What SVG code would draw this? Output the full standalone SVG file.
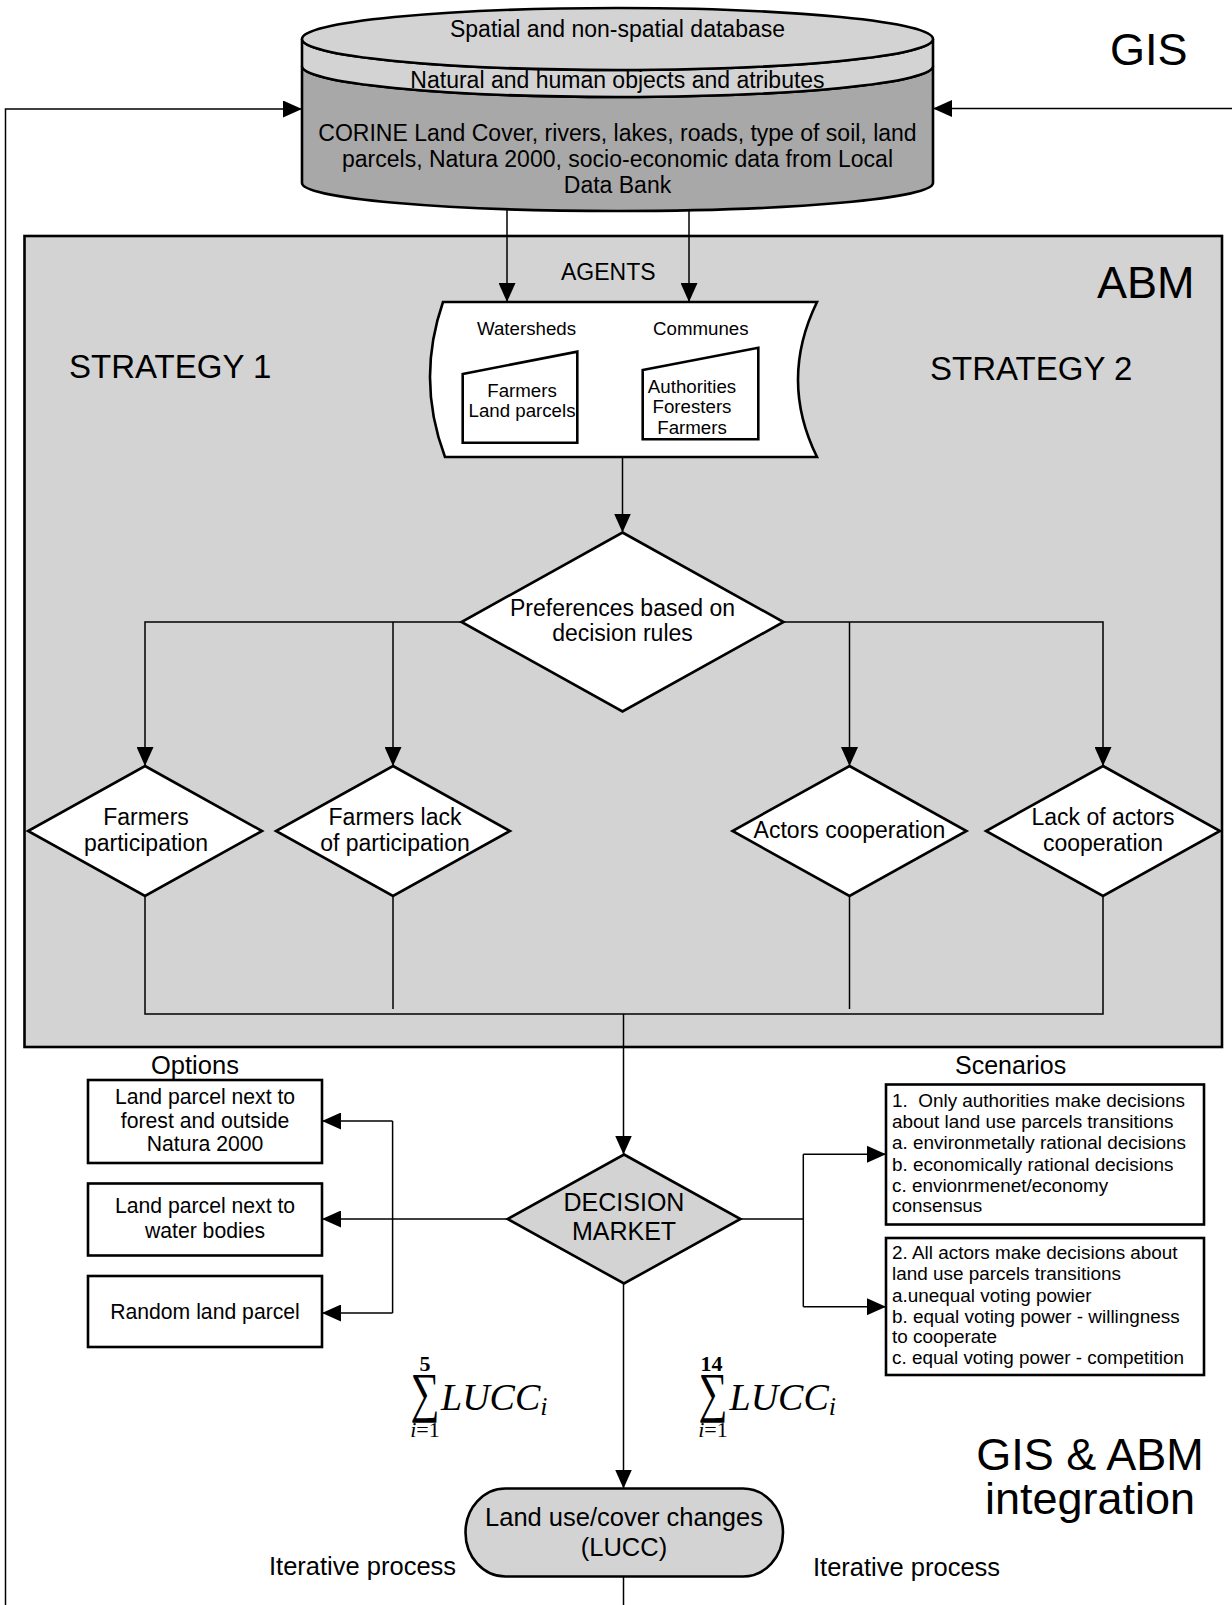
<svg xmlns="http://www.w3.org/2000/svg" width="1232" height="1605" viewBox="0 0 1232 1605">
<style>
text{font-family:"Liberation Sans",Arial,sans-serif;fill:#000}
.t23{font-size:23px}
.t18{font-size:18.7px}
.t19{font-size:18.9px}
.t21{font-size:21.2px}
.t25{font-size:25.5px}
.big{font-size:45px}
.strat{font-size:33px}
.mid{text-anchor:middle}
.serif{font-family:"Liberation Serif","Times New Roman",serif}
.shape{stroke:#000;stroke-width:2.6;stroke-linejoin:miter}
.white{fill:#fff}
.light{fill:#d3d3d3}
.dark{fill:#a8a8a8}
.conn{fill:none;stroke:#000;stroke-width:1.5}
.arr{marker-end:url(#ah)}
</style>
<defs>
<marker id="ah" markerUnits="userSpaceOnUse" markerWidth="19" markerHeight="17" refX="19" refY="8.5" orient="auto">
<path d="M0,0 L19,8.5 L0,17 Z" fill="#000"/>
</marker>
</defs>
<rect width="1232" height="1605" fill="#fff"/>

<g id="abm-frame">
<rect class="shape light" x="24.5" y="236" width="1197.5" height="811" stroke-width="3"/>
<text class="big" x="1097" y="298" font-size="44">ABM</text>
<text class="strat" x="69" y="378">STRATEGY 1</text>
<text class="strat" x="930" y="380">STRATEGY 2</text>
</g>

<g id="gis-label"><text class="big" x="1110" y="65">GIS</text></g>

<g id="database">
<path class="shape dark" d="M302,66 L302,183 A315.5,28 0 0 0 933,183 L933,66 A315.5,31 0 0 1 302,66 Z"/>
<path class="shape light" d="M302,39 L302,66 A315.5,31 0 0 0 933,66 L933,39 A315.5,31 0 0 1 302,39 Z"/>
<ellipse class="shape light" cx="617.5" cy="39" rx="315.5" ry="31"/>
<text class="t23 mid" x="617.5" y="37">Spatial and non-spatial database</text>
<text class="t23 mid" x="617.5" y="88">Natural and human objects and atributes</text>
<text class="t23 mid" x="617.5" y="141">CORINE Land Cover, rivers, lakes, roads, type of soil, land</text>
<text class="t23 mid" x="617.5" y="167">parcels, Natura 2000, socio-economic data from Local</text>
<text class="t23 mid" x="617.5" y="193">Data Bank</text>
</g>

<g id="agents">
<text class="t23" x="561" y="280">AGENTS</text>
<path class="shape white" d="M443,302 L817,302 Q779,380 817,457 L445,457 Q416,380 443,302 Z"/>
<text class="t18" x="477" y="334.5">Watersheds</text>
<text class="t18" x="653" y="335">Communes</text>
</g>

<g id="watersheds-box">
<path class="shape white" d="M462.7,374 L577.3,351.7 L577.3,442.7 L462.7,442.7 Z"/>
<text class="t18 mid" x="522" y="396.5">Farmers</text>
<text class="t18 mid" x="522" y="417">Land parcels</text>
</g>

<g id="communes-box">
<path class="shape white" d="M642.7,370 L758.3,347.7 L758.3,439.3 L642.7,439.3 Z"/>
<text class="t18 mid" x="692" y="392.5">Authorities</text>
<text class="t18 mid" x="692" y="413">Foresters</text>
<text class="t18 mid" x="692" y="433.5">Farmers</text>
</g>

<g id="preferences">
<path class="shape white" d="M622.5,532.5 L783.5,622 L622.5,711.5 L461.5,622 Z"/>
<text class="t23 mid" x="622.5" y="616">Preferences based on</text>
<text class="t23 mid" x="622.5" y="641">decision rules</text>
</g>

<g id="farmers-participation">
<path class="shape white" d="M145,766 L262,831 L145,896 L28,831 Z"/>
<text class="t23 mid" x="146" y="825">Farmers</text>
<text class="t23 mid" x="146" y="851">participation</text>
</g>

<g id="farmers-lack">
<path class="shape white" d="M393,766 L510,831 L393,896 L276,831 Z"/>
<text class="t23 mid" x="395" y="825">Farmers lack</text>
<text class="t23 mid" x="395" y="851">of participation</text>
</g>

<g id="actors-cooperation">
<path class="shape white" d="M849.5,766 L966.5,831 L849.5,896 L732.5,831 Z"/>
<text class="t23 mid" x="849.5" y="838">Actors cooperation</text>
</g>

<g id="lack-cooperation">
<path class="shape white" d="M1103,766 L1220,831 L1103,896 L986,831 Z"/>
<text class="t23 mid" x="1103" y="825">Lack of actors</text>
<text class="t23 mid" x="1103" y="851">cooperation</text>
</g>

<g id="options">
<text class="t25" x="151" y="1074" font-size="25">Options</text>
<rect class="shape white" x="88" y="1080" width="234" height="83" stroke-width="3"/>
<text class="t21 mid" x="205" y="1104">Land parcel next to</text>
<text class="t21 mid" x="205" y="1127.5">forest and outside</text>
<text class="t21 mid" x="205" y="1151">Natura 2000</text>
</g>
<g id="option-water">
<rect class="shape white" x="88" y="1183.5" width="234" height="72" stroke-width="3"/>
<text class="t21 mid" x="205" y="1213">Land parcel next to</text>
<text class="t21 mid" x="205" y="1237.5">water bodies</text>
</g>
<g id="option-random">
<rect class="shape white" x="88" y="1276" width="234" height="71" stroke-width="3"/>
<text class="t21 mid" x="205" y="1319">Random land parcel</text>
</g>

<g id="decision-market">
<path class="shape light" d="M624,1154.5 L740.5,1219 L624,1283.5 L507.5,1219 Z"/>
<text class="mid" x="624" y="1211" font-size="25">DECISION</text>
<text class="mid" x="624" y="1240" font-size="25">MARKET</text>
</g>

<g id="scenarios">
<text x="955" y="1074" font-size="25">Scenarios</text>
<rect class="shape white" x="886" y="1084.5" width="318" height="140" stroke-width="3"/>
<text class="t19" x="892" y="1107" xml:space="preserve">1.  Only authorities make decisions</text>
<text class="t19" x="892" y="1128">about land use parcels transitions</text>
<text class="t19" x="892" y="1149">a. environmetally rational decisions</text>
<text class="t19" x="892" y="1170.5">b. economically rational decisions</text>
<text class="t19" x="892" y="1191.5">c. envionrmenet/economy</text>
<text class="t19" x="892" y="1212">consensus</text>
</g>
<g id="scenario-2">
<rect class="shape white" x="886" y="1238" width="318" height="137" stroke-width="3"/>
<text class="t19" x="892" y="1259">2. All actors make decisions about</text>
<text class="t19" x="892" y="1280">land use parcels transitions</text>
<text class="t19" x="892" y="1301.5">a.unequal voting powier</text>
<text class="t19" x="892" y="1322.5">b. equal voting power - willingness</text>
<text class="t19" x="892" y="1343">to cooperate</text>
<text class="t19" x="892" y="1364">c. equal voting power - competition</text>
</g>

<g id="sum-5">
<text class="serif mid" x="425" y="1371" font-size="22" font-weight="bold">5</text>
<text class="serif mid" x="425" y="1411" font-size="55" textLength="29" lengthAdjust="spacingAndGlyphs">∑</text>
<text class="serif mid" x="425" y="1437" font-size="22"><tspan font-style="italic">i</tspan>=1</text>
<text class="serif" x="441" y="1410" font-size="38" font-style="italic">LUCC<tspan font-size="26" dy="5">i</tspan></text>
</g>
<g id="sum-14">
<text class="serif mid" x="711.5" y="1371" font-size="22" font-weight="bold">14</text>
<text class="serif mid" x="713" y="1411" font-size="55" textLength="29" lengthAdjust="spacingAndGlyphs">∑</text>
<text class="serif mid" x="713" y="1437" font-size="22"><tspan font-style="italic">i</tspan>=1</text>
<text class="serif" x="729.5" y="1410" font-size="38" font-style="italic">LUCC<tspan font-size="26" dy="5">i</tspan></text>
</g>

<g id="lucc">
<rect class="shape light" x="465.5" y="1488.5" width="317.5" height="88" rx="40" ry="44"/>
<text class="t25 mid" x="624" y="1525.5">Land use/cover changes</text>
<text class="t25 mid" x="624" y="1555.5">(LUCC)</text>
</g>

<g id="labels">
<text class="t25" x="269" y="1575">Iterative process</text>
<text class="t25" x="813" y="1576">Iterative process</text>
<text class="big mid" x="1090" y="1470" font-size="44">GIS &amp; ABM</text>
<text class="big mid" x="1090" y="1514" font-size="44">integration</text>
</g>

<g id="connectors">
<polyline class="conn arr" points="5.5,1605 5.5,109 302,109"/>
<line class="conn arr" x1="1232" y1="108.5" x2="933" y2="108.5"/>
<line class="conn arr" x1="507" y1="209" x2="507" y2="302"/>
<line class="conn arr" x1="689" y1="210" x2="689" y2="302"/>
<line class="conn arr" x1="622.5" y1="457" x2="622.5" y2="532.5"/>
<polyline class="conn arr" points="461.5,622 145,622 145,766"/>
<line class="conn arr" x1="393" y1="622" x2="393" y2="766"/>
<polyline class="conn arr" points="783.5,622 1103,622 1103,766"/>
<line class="conn arr" x1="849.5" y1="622" x2="849.5" y2="766"/>
<polyline class="conn" points="145,896 145,1014 1103,1014 1103,896"/>
<line class="conn" x1="393" y1="896" x2="393" y2="1009"/>
<line class="conn" x1="849.5" y1="896" x2="849.5" y2="1009"/>
<line class="conn arr" x1="623.5" y1="1014" x2="623.5" y2="1154.5"/>
<line class="conn arr" x1="507.5" y1="1219" x2="322" y2="1219"/>
<line class="conn" x1="392.6" y1="1121" x2="392.6" y2="1313"/>
<line class="conn arr" x1="392.6" y1="1121" x2="322" y2="1121"/>
<line class="conn arr" x1="392.6" y1="1313" x2="322" y2="1313"/>
<polyline class="conn" points="740.5,1219 803.3,1219"/>
<line class="conn" x1="803.3" y1="1154.3" x2="803.3" y2="1306.7"/>
<line class="conn arr" x1="803.3" y1="1154.3" x2="886" y2="1154.3"/>
<line class="conn arr" x1="803.3" y1="1306.7" x2="886" y2="1306.7"/>
<line class="conn arr" x1="623.5" y1="1283.5" x2="623.5" y2="1488.5"/>
<line class="conn" x1="623.5" y1="1576.5" x2="623.5" y2="1605"/>
</g>
</svg>
